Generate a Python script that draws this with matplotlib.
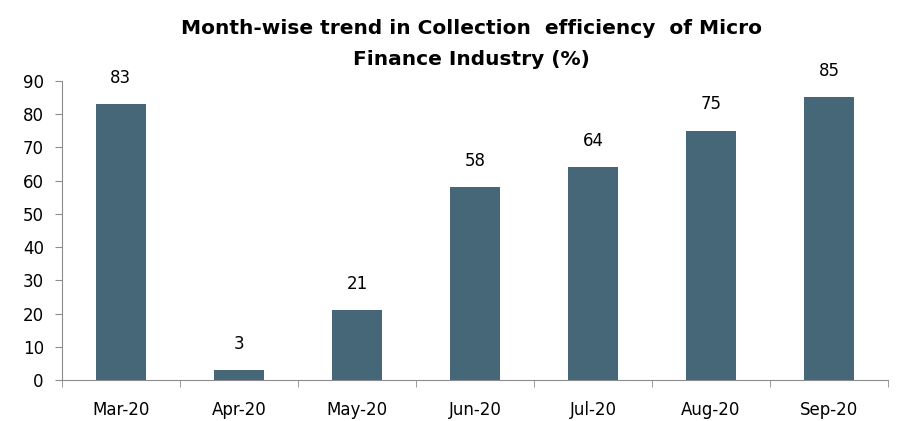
import matplotlib.pyplot as plt
import numpy as np

months = ['Mar-20', 'Apr-20', 'May-20', 'Jun-20', 'Jul-20', 'Aug-20', 'Sep-20']
efficiency = [83, 3, 21, 58, 64, 75, 85]

BAR_COLOR = '#466777'
AXIS_COLOR = '#8c8c8c'


def main():
    fig = plt.figure(figsize=(8.97, 4.21), dpi=100)
    ax = fig.add_axes([0.069, 0.097, 0.921, 0.711])

    x = np.arange(len(months))
    ax.bar(x, efficiency, width=0.42, color=BAR_COLOR)
    for xi, v in zip(x, efficiency):
        ax.text(xi, v + 8, str(v), ha='center', va='center', fontsize=12)

    ax.set_xlim(-0.5, len(months) - 0.5)
    ax.set_ylim(0, 90)
    ax.set_yticks(range(0, 91, 10))
    ax.set_xticks(x)
    ax.set_xticklabels(months)
    ax.set_xticks(np.arange(-0.5, len(months), 1), minor=True)
    ax.tick_params(axis='x', which='major', length=0, pad=15, labelsize=12)
    ax.tick_params(axis='x', which='minor', length=5, color=AXIS_COLOR)
    ax.tick_params(axis='y', length=5, color=AXIS_COLOR, labelsize=12, pad=8)

    for side in ['top', 'right']:
        ax.spines[side].set_visible(False)
    for side in ['left', 'bottom']:
        ax.spines[side].set_color(AXIS_COLOR)

    fig.text(0.526, 0.955, 'Month-wise trend in Collection  efficiency  of Micro\nFinance Industry (%)',
             ha='center', va='top', fontsize=14.5, fontweight='bold', linespacing=1.8)

    plt.savefig('out.png', dpi=100)


if __name__ == "__main__":
    main()
